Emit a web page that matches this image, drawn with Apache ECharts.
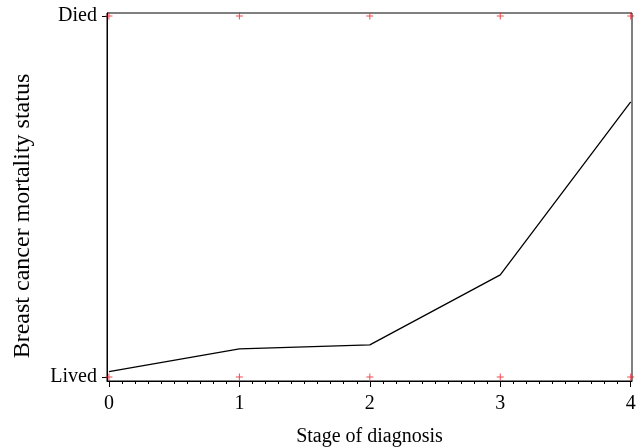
<!DOCTYPE html>
<html>
<head>
<meta charset="utf-8">
<script src="https://cdn.jsdelivr.net/npm/echarts@6/dist/echarts.min.js"></script>
<style>
  html, body { margin: 0; padding: 0; background: #fff; }
  #grafica { width: 643px; height: 448px; }
</style>
</head>
<body>
<div id="grafica"></div>
<script>
// stages on the x axis
const stages = [0, 1, 2, 3, 4];
// observed outcomes (0 = Lived, 1 = Died), one of each per stage
const livedObs = [0, 0, 0, 0, 0];
const diedObs = [1, 1, 1, 1, 1];
// fitted probability line
const fitted = [0.015, 0.078, 0.089, 0.283, 0.762];
// tick labels
const xTickLabels = ["0", "1", "2", "3", "4"];
const yTickValues = [0, 1];
const yTickLabels = ["Lived", "Died"];

const FONT = "Liberation Serif";
const plus = "path://M3,0h1v3h3v1h-3v3h-1v-3h-3v-1h3z";

// minor ticks every 0.1 (just styling)
let minorTicks = [];
for (let i = 0; i <= 40; i++) {
  if (i % 10 !== 0) minorTicks.push(i / 10);
}

const xMin = -0.015;
const xMax = 4.01;

const option = {
  animation: false,
  grid: {
    left: 107,
    right: 11,
    top: 13,
    bottom: 67,
    outerBoundsMode: "none",
    show: true,
    borderColor: "#000",
    borderWidth: 1,
  },
  xAxis: [
    {
      type: "value",
      min: xMin,
      max: xMax,
      name: "Stage of diagnosis",
      nameLocation: "middle",
      nameGap: 46,
      nameTextStyle: { fontFamily: FONT, fontSize: 20, color: "#000" },
      axisLine: { onZero: false, lineStyle: { color: "#000", width: 1 } },
      axisTick: {
        customValues: stages,
        length: 6,
        lineStyle: { color: "#000" },
      },
      axisLabel: {
        customValues: stages,
        formatter: (v) => xTickLabels[stages.indexOf(v)],
        fontFamily: FONT,
        fontSize: 20,
        color: "#000",
        margin: 13,
      },
      splitLine: { show: false },
    },
    {
      type: "value",
      min: xMin,
      max: xMax,
      position: "bottom",
      axisLine: { show: false, onZero: false },
      axisTick: {
        customValues: minorTicks,
        length: 3,
        lineStyle: { color: "#000" },
      },
      axisLabel: { show: false },
      splitLine: { show: false },
    },
  ],
  yAxis: {
    type: "value",
    min: -0.011,
    max: 1.008,
    name: "Breast cancer mortality status",
    nameLocation: "middle",
    nameGap: 72,
    nameTextStyle: {
      fontFamily: FONT,
      fontSize: 24,
      color: "#000",
      padding: [0, 38, 0, 0],
    },
    axisLine: { onZero: false, lineStyle: { color: "#000", width: 1 } },
    axisTick: {
      customValues: yTickValues,
      length: 5,
      lineStyle: { color: "#000" },
    },
    axisLabel: {
      customValues: yTickValues,
      formatter: (v) => yTickLabels[yTickValues.indexOf(v)],
      fontFamily: FONT,
      fontSize: 20,
      color: "#000",
      margin: 10,
    },
    splitLine: { show: false },
  },
  series: [
    {
      type: "line",
      data: stages.map((s, i) => [s, fitted[i]]),
      showSymbol: false,
      lineStyle: { color: "#000", width: 1.3 },
      z: 3,
    },
    {
      type: "scatter",
      data: stages.map((s, i) => [s, livedObs[i]]),
      symbol: plus,
      symbolSize: 7,
      itemStyle: { color: "#ee1c25" },
      z: 4,
    },
    {
      type: "scatter",
      data: stages.map((s, i) => [s, diedObs[i]]),
      symbol: plus,
      symbolSize: 7,
      itemStyle: { color: "#ee1c25" },
      z: 4,
    },
  ],
};

let MYCHART = echarts.init(document.querySelector("#grafica"));
MYCHART.setOption(option);
</script>
</body>
</html>
